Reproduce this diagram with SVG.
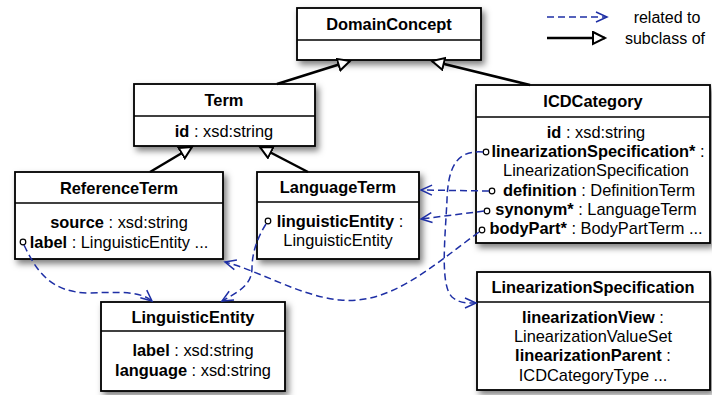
<svg xmlns="http://www.w3.org/2000/svg" width="712" height="395" viewBox="0 0 712 395">
<style>
.box{fill:#fff;stroke:#000;stroke-width:1.8}
.div{stroke:#000;stroke-width:1.5}
text{font-family:"Liberation Sans",Arial,sans-serif;font-size:16.4px;fill:#000}
.h{font-weight:bold;text-anchor:middle}
.t{text-anchor:middle}
.b{font-weight:bold}
.leg{font-size:16px;text-anchor:middle}
.sub{stroke:#000;stroke-width:2.5;fill:none}
.rel{stroke:#1e2fa5;stroke-width:1.5;stroke-dasharray:7,4;fill:none}
.dot{fill:#fff;stroke:#000;stroke-width:1.2}
</style>
<defs>
<filter id="sh" x="-10%" y="-10%" width="130%" height="140%">
<feDropShadow dx="3" dy="4" stdDeviation="3" flood-color="#000" flood-opacity="0.5"/>
</filter>
<marker id="tri" markerUnits="userSpaceOnUse" markerWidth="16" markerHeight="16" refX="13" refY="7" orient="auto">
<path d="M1,1 L13,7 L1,13 z" fill="#fff" stroke="#000" stroke-width="2"/>
</marker>
<marker id="chev" markerUnits="userSpaceOnUse" markerWidth="14" markerHeight="14" refX="12" refY="6" orient="auto">
<path d="M1,1 L12,6 L1,11" fill="none" stroke="#1e2fa5" stroke-width="1.5"/>
</marker>
</defs>

<g id="legend">
<line x1="547" y1="17" x2="607" y2="17" class="rel" marker-end="url(#chev)"/>
<line x1="547" y1="38" x2="605" y2="38" class="sub" marker-end="url(#tri)"/>
<text x="667" y="23" class="leg">related to</text>
<text x="665" y="44" class="leg">subclass of</text>
</g>

<g id="DomainConcept">
<rect x="297" y="8" width="184" height="52" class="box" filter="url(#sh)"/>
<line x1="297" y1="40" x2="481" y2="40" class="div"/>
<text x="389" y="30" class="h">DomainConcept</text>
</g>

<g id="Term">
<rect x="134" y="84" width="181" height="62" class="box" filter="url(#sh)"/>
<line x1="134" y1="116" x2="315" y2="116" class="div"/>
<text x="224" y="106" class="h">Term</text>
<text x="224" y="137" class="t"><tspan class="b">id</tspan> : xsd:string</text>
</g>

<g id="ICDCategory">
<rect x="476" y="85" width="234" height="158" class="box" filter="url(#sh)"/>
<line x1="476" y1="117" x2="710" y2="117" class="div"/>
<text x="593" y="107" class="h">ICDCategory</text>
<text x="596" y="138" class="t"><tspan class="b">id</tspan> : xsd:string</text>
<text x="598" y="157" class="t"><tspan class="b">linearizationSpecification*</tspan> :</text>
<text x="596" y="176" class="t">LinearizationSpecification</text>
<text x="599" y="196" class="t"><tspan class="b">definition</tspan> : DefinitionTerm</text>
<text x="596" y="215" class="t"><tspan class="b">synonym*</tspan> : LanguageTerm</text>
<text x="596" y="234" class="t"><tspan class="b">bodyPart*</tspan> : BodyPartTerm ...</text>
<circle cx="486" cy="152" r="2.8" class="dot"/>
<circle cx="492" cy="191" r="2.8" class="dot"/>
<circle cx="487" cy="211" r="2.8" class="dot"/>
<circle cx="482" cy="230" r="2.8" class="dot"/>
</g>

<g id="ReferenceTerm">
<rect x="15" y="172" width="208" height="87" class="box" filter="url(#sh)"/>
<line x1="15" y1="203" x2="223" y2="203" class="div"/>
<text x="119" y="194" class="h">ReferenceTerm</text>
<text x="119" y="228" class="t"><tspan class="b">source</tspan> : xsd:string</text>
<text x="119" y="248" class="t"><tspan class="b">label</tspan> : LinguisticEntity ...</text>
<circle cx="23" cy="242" r="2.8" class="dot"/>
</g>

<g id="LanguageTerm">
<rect x="257" y="172" width="162" height="87" class="box" filter="url(#sh)"/>
<line x1="257" y1="202" x2="419" y2="202" class="div"/>
<text x="338" y="193" class="h">LanguageTerm</text>
<text x="340" y="227" class="t"><tspan class="b">linguisticEntity</tspan> :</text>
<text x="338" y="246" class="t">LinguisticEntity</text>
<circle cx="268" cy="221" r="2.8" class="dot"/>
</g>

<g id="LinguisticEntity">
<rect x="101" y="302" width="184" height="89" class="box" filter="url(#sh)"/>
<line x1="101" y1="331" x2="285" y2="331" class="div"/>
<text x="193" y="323" class="h">LinguisticEntity</text>
<text x="193" y="356" class="t"><tspan class="b">label</tspan> : xsd:string</text>
<text x="193" y="376" class="t"><tspan class="b">language</tspan> : xsd:string</text>
</g>

<g id="LinearizationSpecification">
<rect x="477" y="272" width="233" height="118" class="box" filter="url(#sh)"/>
<line x1="477" y1="302" x2="710" y2="302" class="div"/>
<text x="593" y="293" class="h">LinearizationSpecification</text>
<text x="593" y="323" class="t"><tspan class="b">linearizationView</tspan> :</text>
<text x="593" y="342" class="t">LinearizationValueSet</text>
<text x="593" y="361" class="t"><tspan class="b">linearizationParent</tspan> :</text>
<text x="593" y="381" class="t">ICDCategoryType ...</text>
</g>

<g id="connectors">
<line x1="277" y1="84" x2="350" y2="61" class="sub" marker-end="url(#tri)"/>
<line x1="530" y1="85" x2="432" y2="61" class="sub" marker-end="url(#tri)"/>
<line x1="150" y1="172" x2="192" y2="147" class="sub" marker-end="url(#tri)"/>
<line x1="308" y1="172" x2="260" y2="147" class="sub" marker-end="url(#tri)"/>

<path d="M483,152 C458,150 448,165 447,200 C445,240 440,285 452,297 C460,304 468,303 476,303" class="rel" marker-end="url(#chev)"/>
<path d="M489,191 L421,190" class="rel" marker-end="url(#chev)"/>
<path d="M484,211 L421,219" class="rel" marker-end="url(#chev)"/>
<path d="M479,232 C430,268 390,305 340,300 C300,296 262,272 225,262" class="rel" marker-end="url(#chev)"/>
<path d="M266,224 C256,240 252,255 252,268 C252,285 238,292 222,301" class="rel" marker-end="url(#chev)"/>
<path d="M24,245 C36,270 50,293 90,293 C120,292 140,291 152,301" class="rel" marker-end="url(#chev)"/>
</g>
</svg>
